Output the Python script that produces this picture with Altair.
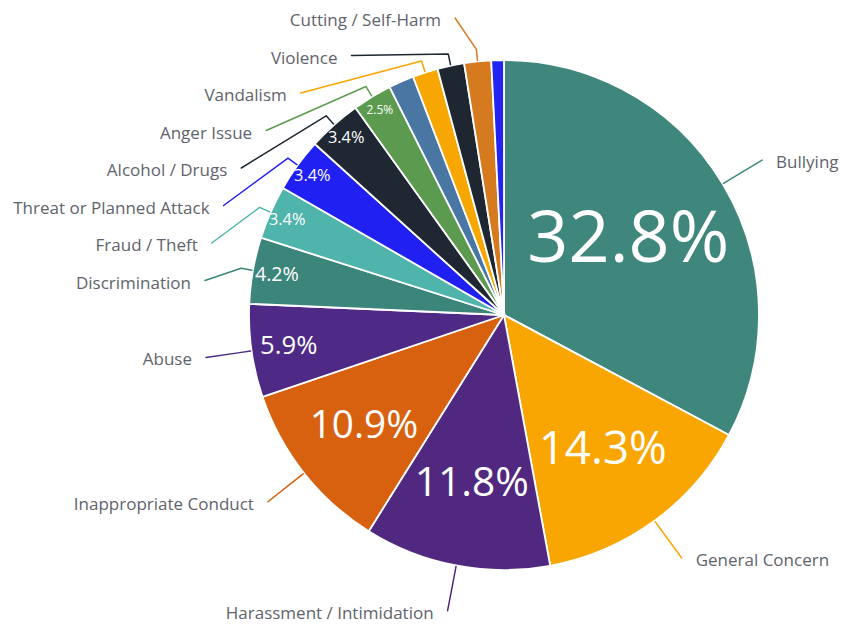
import altair as alt
import pandas as pd

# ---------------- data ----------------
categories = [
    "Bullying", "General Concern", "Harassment / Intimidation", "Inappropriate Conduct",
    "Abuse", "Discrimination", "Fraud / Theft", "Threat or Planned Attack",
    "Alcohol / Drugs", "Anger Issue", "Unlabelled A", "Vandalism", "Violence",
    "Cutting / Self-Harm", "Unlabelled B",
]
values = [32.8, 14.3, 11.8, 10.9, 5.9, 4.2, 3.4, 3.4, 3.4, 2.5, 1.6, 1.6, 1.7, 1.7, 0.8]
labels = [
    "Bullying", "General Concern", "Harassment / Intimidation", "Inappropriate Conduct",
    "Abuse", "Discrimination", "Fraud / Theft", "Threat or Planned Attack",
    "Alcohol / Drugs", "Anger Issue", "", "Vandalism", "Violence",
    "Cutting / Self-Harm", "",
]
colors = [
    "#3f877d", "#f9a602", "#50287f", "#d8610f", "#4e2a86", "#3b857a", "#4fb4ab",
    "#2020f2", "#1f2832", "#5c9b4f", "#4a76a3", "#f8a601", "#1e2731", "#d67a20", "#2424f0",
]

df = pd.DataFrame({
    "idx": list(range(len(categories))),
    "category": categories,
    "value": values,
    "label": labels,
})

# ---------------- layout ----------------
W, H = 834, 618
CX, CY = 496, 307          # pie centre inside the plot area
R = 255                    # pie radius
RL = 301                   # radius of label anchors
TOP = -297                 # highest label anchor (relative to centre)
SP = 37.5                  # minimum vertical spacing of stacked labels
GAP = 14                   # gap between anchor and text

FONT = "Open Sans"
TEXT_COLOR = "#5f636b"

cscale = alt.Scale(domain=categories, range=colors)
xs = alt.Scale(domain=[-CX, W - CX], range=[0, W], nice=False, zero=False)
ys = alt.Scale(domain=[-CY, H - CY], range=[0, H], nice=False, zero=False)

base = alt.Chart(df)

arcs = base.mark_arc(outerRadius=R, stroke="white", strokeWidth=1.8).encode(
    theta=alt.Theta("value:Q", stack=True),
    order=alt.Order("idx:Q"),
    color=alt.Color("category:N", scale=cscale, legend=None),
    x=alt.value(CX),
    y=alt.value(CY),
)

pct = (
    base.transform_window(cum="sum(value)", sort=[alt.SortField("idx")], frame=[None, 0])
    .transform_joinaggregate(total="sum(value)")
    .transform_calculate(frac="(datum.cum - datum.value/2)/datum.total")
    .transform_calculate(pct="datum.value >= 2.5 ? format(datum.value, '.1f') + '%' : ''")
    .mark_text(font=FONT, color="white", align="center", baseline="middle")
    .encode(
        theta=alt.Theta("frac:Q", scale=alt.Scale(domain=[0, 1])),
        radius=alt.Radius("value:Q", scale=alt.Scale(type="linear", domain=[3, 12, 32.8],
                                                     range=[240, 170, 145], clamp=True)),
        size=alt.Size("value:Q", scale=alt.Scale(type="pow", exponent=0.4, domain=[2.5, 32.8],
                                                 range=[12, 72], clamp=True), legend=None),
        text="pct:N",
        x=alt.value(CX),
        y=alt.value(CY),
    )
)

lab = (
    base.transform_window(cum="sum(value)", sort=[alt.SortField("idx")], frame=[None, 0])
    .transform_joinaggregate(total="sum(value)")
    .transform_calculate(a="(datum.cum - datum.value/2)/datum.total*2*PI")
    .transform_filter("datum.label != ''")
    .transform_calculate(side="sin(datum.a) >= 0 ? 'R' : 'L'")
    .transform_calculate(ny=f"-{RL}*cos(datum.a)")
    .transform_window(rank="row_number()", groupby=["side"],
                      sort=[alt.SortField("a", order="descending")])
    .transform_calculate(ay=f"datum.side == 'L' ? max(datum.ny, {TOP} + (datum.rank-1)*{SP}) : datum.ny")
    .transform_calculate(ax=f"(datum.side == 'L' ? -1 : 1)*sqrt(max(0, {RL*RL} - datum.ay*datum.ay))")
    .transform_calculate(bx=f"{R+12}*sin(datum.a)")
    .transform_calculate(by=f"-{R+12}*cos(datum.a)")
    .transform_calculate(ex=f"{R+1}*sin(datum.a)")
    .transform_calculate(ey=f"-{R+1}*cos(datum.a)")
    .transform_calculate(tx=f"datum.ax + (datum.side == 'L' ? -{GAP} : {GAP})")
    .transform_calculate(ty="datum.ay + 3")
)

lines = (
    lab.transform_calculate(px="[datum.ax, datum.bx, datum.ex]",
                            py="[datum.ay, datum.by, datum.ey]",
                            pi="[0, 1, 2]")
    .transform_flatten(["px", "py", "pi"])
    .mark_line(strokeWidth=1.5, strokeJoin="round", strokeCap="round")
    .encode(
        x=alt.X("px:Q", scale=xs, axis=None),
        y=alt.Y("py:Q", scale=ys, axis=None),
        order=alt.Order("pi:Q"),
        detail="category:N",
        color=alt.Color("category:N", scale=cscale, legend=None),
    )
)

names_left = lab.transform_filter("datum.side == 'L'").mark_text(
    align="right", baseline="middle", font=FONT, fontSize=17, color=TEXT_COLOR
).encode(
    x=alt.X("tx:Q", scale=xs, axis=None),
    y=alt.Y("ty:Q", scale=ys, axis=None),
    text="label:N",
)

names_right = lab.transform_filter("datum.side == 'R'").mark_text(
    align="left", baseline="middle", font=FONT, fontSize=17, color=TEXT_COLOR
).encode(
    x=alt.X("tx:Q", scale=xs, axis=None),
    y=alt.Y("ty:Q", scale=ys, axis=None),
    text="label:N",
)

chart = (
    alt.layer(arcs, pct, lines, names_left, names_right)
    .resolve_scale(theta="independent", radius="independent")
    .properties(width=W, height=H, autosize="none", padding=0, background="white")
    .configure_view(stroke=None)
)

chart.save("out.html", embed_options={"renderer": "svg", "actions": False})
